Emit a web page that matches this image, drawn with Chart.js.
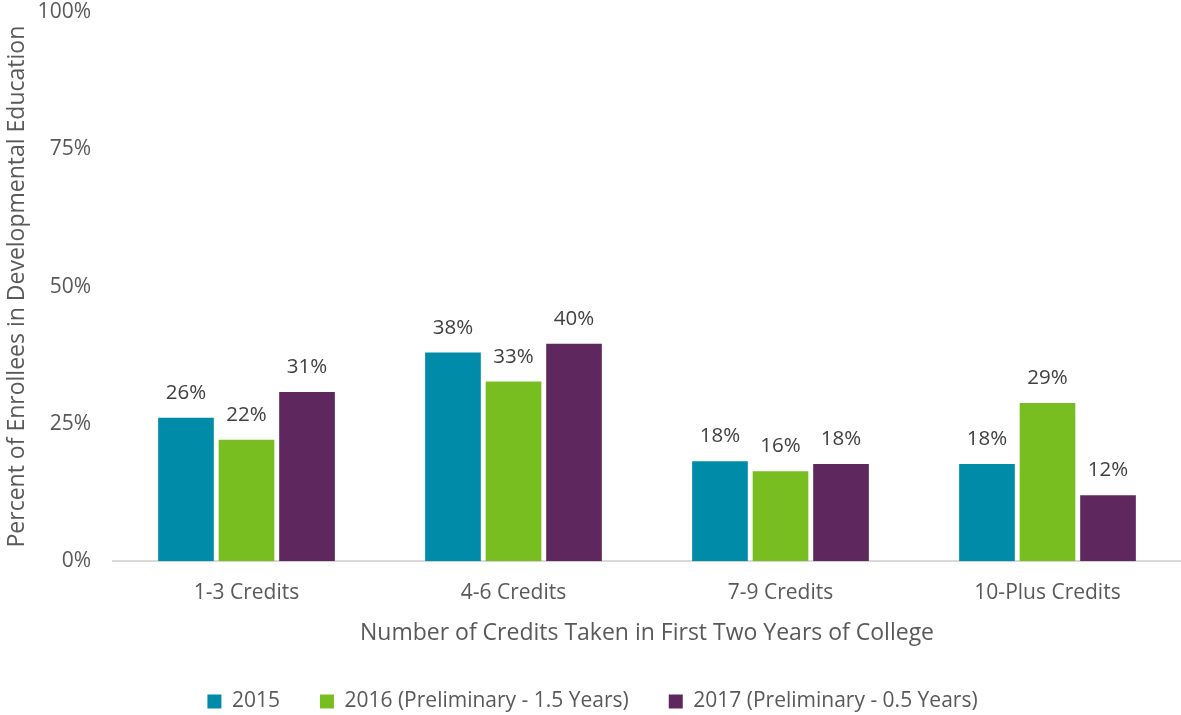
<!DOCTYPE html>
<html>
<head>
<meta charset="utf-8">
<script src="https://cdn.jsdelivr.net/npm/chart.js@4.4.0/dist/chart.umd.min.js"></script>
<style>
  html, body { margin: 0; padding: 0; background: #fff; }
  #wrap { width: 1181px; height: 715px; }
</style>
</head>
<body>
<div id="wrap"><canvas id="chart"></canvas></div>
<script>
const categories = ['1-3 Credits', '4-6 Credits', '7-9 Credits', '10-Plus Credits'];
const seriesNames = ['2015', '2016 (Preliminary - 1.5 Years)', '2017 (Preliminary - 0.5 Years)'];
const values2015 = [26.1, 38.0, 18.2, 17.7];
const values2016 = [22.1, 32.7, 16.4, 28.8];
const values2017 = [30.8, 39.6, 17.7, 12.0];
const yTicks = [0, 25, 50, 75, 100];

const colors = ['#008CA8', '#78BE20', '#5E285E'];
const FONT = "'Open Sans', sans-serif";

// labels above each bar
const barLabels = {
  id: 'barLabels',
  afterDatasetsDraw(chart) {
    const ctx = chart.ctx;
    ctx.save();
    ctx.font = '20.5px ' + FONT;
    ctx.fillStyle = '#404040';
    ctx.textAlign = 'center';
    ctx.textBaseline = 'alphabetic';
    chart.data.datasets.forEach((ds, i) => {
      chart.getDatasetMeta(i).data.forEach((bar, j) => {
        ctx.fillText(Math.round(ds.data[j]) + '%', bar.x, bar.y - 19);
      });
    });
    ctx.restore();
  }
};

new Chart(document.getElementById('chart'), {
  type: 'bar',
  data: {
    labels: categories,
    datasets: [values2015, values2016, values2017].map((vals, i) => ({
      label: seriesNames[i],
      data: vals,
      backgroundColor: colors[i],
      borderWidth: 0,
      barPercentage: 0.92,
      categoryPercentage: 0.68
    }))
  },
  options: {
    responsive: true,
    maintainAspectRatio: false,
    animation: false,
    layout: { padding: { top: 0, right: 0, left: 4, bottom: -7 } },
    plugins: {
      legend: {
        position: 'bottom',
        labels: {
          boxWidth: 14,
          boxHeight: 14,
          padding: 40,
          color: '#595959',
          font: { family: FONT, size: 21 }
        }
      },
      tooltip: { enabled: false }
    },
    scales: {
      x: {
        grid: { display: false },
        border: { display: true, color: '#d9d9d9', width: 2 },
        ticks: { color: '#595959', font: { family: FONT, size: 21 }, padding: 11 },
        title: {
          display: true,
          text: 'Number of Credits Taken in First Two Years of College',
          color: '#595959',
          font: { family: FONT, size: 23 },
          padding: { top: 3, bottom: 4 }
        }
      },
      y: {
        min: 0,
        max: 100,
        grid: { display: false },
        border: { display: false },
        afterBuildTicks(scale) {
          scale.ticks = yTicks.map(v => ({ value: v }));
        },
        afterFit(scale) {
          scale.width = 109;
          scale.paddingTop = 12;
          scale.paddingBottom = 0;
        },
        ticks: {
          color: '#595959',
          font: { family: FONT, size: 21 },
          padding: 14,
          callback: v => v + '%'
        },
        title: {
          display: true,
          text: 'Percent of Enrollees in Developmental Education',
          color: '#595959',
          font: { family: FONT, size: 23 },
          padding: { top: 0, bottom: 10 }
        }
      }
    }
  },
  plugins: [barLabels]
});
</script>
</body>
</html>
